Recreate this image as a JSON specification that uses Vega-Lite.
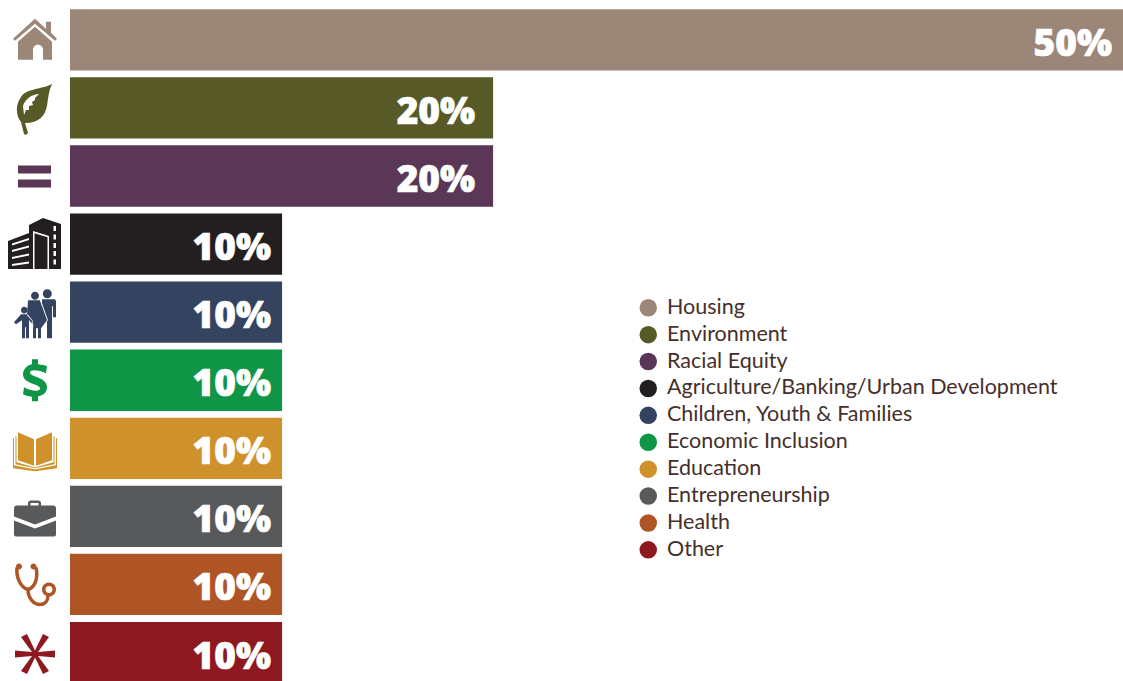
{
"$schema":"https://vega.github.io/schema/vega-lite/v6.json",
"width":1123,"height":681,"padding":0,"autosize":{"type":"none"},
"background":"white","view":{"stroke":null},
"data":{"values":[
{"topic":"Housing","share":50,"label":"50%"},
{"topic":"Environment","share":20.09,"label":"20%"},
{"topic":"Racial Equity","share":20.09,"label":"20%"},
{"topic":"Agriculture/Banking/Urban Development","share":10.07,"label":"10%"},
{"topic":"Children, Youth & Families","share":10.07,"label":"10%"},
{"topic":"Economic Inclusion","share":10.07,"label":"10%"},
{"topic":"Education","share":10.07,"label":"10%"},
{"topic":"Entrepreneurship","share":10.07,"label":"10%"},
{"topic":"Health","share":10.07,"label":"10%"},
{"topic":"Other","share":10.07,"label":"10%"}
]},
"encoding":{
"y":{"field":"topic","type":"nominal","axis":null,"sort":null,"scale":{"domain":["Housing","Environment","Racial Equity","Agriculture/Banking/Urban Development","Children, Youth & Families","Economic Inclusion","Education","Entrepreneurship","Health","Other"],"range":[9.2,683.2],"paddingInner":0.1,"paddingOuter":0}}
},
"layer":[
{"mark":{"type":"bar","opacity":1},
"encoding":{
"x":{"field":"share","type":"quantitative","axis":null,"scale":{"domain":[-3.324,50],"nice":false,"zero":false}},
"color":{"field":"topic","type":"nominal","sort":null,
"scale":{"domain":["Housing","Environment","Racial Equity","Agriculture/Banking/Urban Development","Children, Youth & Families","Economic Inclusion","Education","Entrepreneurship","Health","Other"],
"range":["#9c8678","#575a26","#5a3757","#231f20","#344460","#0e9646","#cf912b","#58595b","#ae5425","#8d181f"]},
"legend":{"title":null,"orient":"none","legendX":637.5,"legendY":297,"padding":0,"symbolType":"circle","symbolSize":306,"symbolStrokeWidth":0,"symbolOpacity":1,"labelFont":"Lato","labelFontSize":21.5,"labelColor":"#452f2b","labelLimit":500,"labelOffset":8,"rowPadding":3.9,"columns":1}}
}},
{"transform":[{"filter":"datum.share < 15 || datum.share > 30"}],
"mark":{"type":"text","align":"right","baseline":"middle","dx":-11,"dy":5,"font":"Open Sans","fontWeight":800,"fontSize":37,"color":"white","stroke":"white","strokeWidth":0.7},
"encoding":{"x":{"field":"share","type":"quantitative"},"text":{"field":"label"}}},
{"transform":[{"filter":"datum.share > 15 && datum.share < 30"}],
"mark":{"type":"text","align":"right","baseline":"middle","dx":-18,"dy":5,"font":"Open Sans","fontWeight":800,"fontSize":37,"color":"white","stroke":"white","strokeWidth":0.7},
"encoding":{"x":{"field":"share","type":"quantitative"},"text":{"field":"label"}}},
{"mark":{"type":"point","filled":true,"opacity":1,"size":4},
"encoding":{
"x":{"datum":-1.662,"type":"quantitative"},
"color":{"field":"topic","type":"nominal","sort":null,"legend":null},
"shape":{"field":"topic","type":"nominal","sort":null,"legend":null,"scale":{"domain":["Housing","Environment","Racial Equity","Agriculture/Banking/Urban Development","Children, Youth & Families","Economic Inclusion","Education","Entrepreneurship","Health","Other"],
"range":[
"M-22,-1 L0,-21 L11,-11 L11,-18 L16,-18 L16,-7 L22,-1 L20,1 L0,-16 L-20,1 Z M-17,2 L0,-13 L17,2 L17,20 L8,20 L8,10 A5,5 0 0 0 -2,10 L-2,20 L-17,20 Z",
"M17,-24 C5,-18 -8,-20 -14,-11 C-20,-3 -19,8 -14,14 L-11,26 Q-9,28 -7,25 L-10,15 C4,15 10,8 12,-2 C13,-10 14,-18 17,-24 Z",
"M-17,-10.5 L16,-10.5 L16,-2.5 L-17,-2.5 Z M-17,3.5 L16,3.5 L16,11.5 L-17,11.5 Z",
"M-6,-19 L8,-26 L26,-20 L26,25 L-27,25 L-27,-3 L-6,-11 Z",
"M-0,-16.5 m-4,0 a4,4 0 1 0 8,0 a4,4 0 1 0 -8,0 Z M12.3,-18.5 m-4.5,0 a4.5,4.5 0 1 0 9,0 a4.5,4.5 0 1 0 -9,0 Z M-10.7,-2 m-3.3,0 a3.3,3.3 0 1 0 6.6,0 a3.3,3.3 0 1 0 -6.6,0 Z M7,-13 L20,-13 L21,-11 L21,5 L18,5 L18,-6 L17,-6 L17,26 L12,26 L12,8 L7,8 Z M-7,-12 L5,-12 L12,8 L6,16 L6,26 L3,26 L3,16 L1,16 L1,26 L-2,26 L-2,14 L-3,8 L-8,3 Z M-14,2 L-7,2 L-1,9 L-3,11 L-6,8 L-6,26 L-9,26 L-9,15 L-10,15 L-10,26 L-13,26 L-13,8 L-19,12 L-21,10 Z",
"M-3,-21 L3,-21 L3,-16 C7,-15.5 10,-15 12,-14 L11,-7 C7,-9 3,-10 -1,-10 C-4,-10 -5,-9 -5,-7.5 C-5,-6 -3,-5 1,-3.5 C8,-1 12,2 12,7 C12,12 8,15.5 3,16 L3,21 L-3,21 L-3,16.5 C-7,16 -10,15 -12,14 L-11,7 C-7,9 -3,10.5 1,10.5 C4,10.5 5,9.5 5,8 C5,6.5 3,5.5 -1,4 C-8,1.5 -12,-1 -12,-6 C-12,-11 -8,-15 -3,-16 Z",
"M-17,-16 L-1,-9 L-1,17.5 L-17,12 Z M1,-9 L17,-16 L17,12 L1,17.5 Z M-22,-10 L-21,-10 L-21,17 L-1,21 L1,21 L21,17 L21,-10 L22,-10 L22,20 L0,23 L-22,20 Z M-19.5,-12 L-18.5,-12 L-18.5,14 L-1,19 L1,19 L18.5,14 L18.5,-12 L19.5,-12 L19.5,16 L0,20 L-19.5,16 Z",
"M-21,-8 Q-21,-11 -18,-11 L18,-11 Q21,-11 21,-8 L21,0 L0,8 L-21,0 Z M-21,4 L0,12 L21,4 L21,18 Q21,20 19,20 L-19,20 Q-21,20 -21,18 Z M-7,-10 L-7,-13 Q-7,-16 -4,-16 L3,-16 Q6,-16 6,-13 L6,-10 L3.5,-10 L3.5,-13.5 L-4.5,-13.5 L-4.5,-10 Z",
"M7,5 A7,7 0 1 0 21,5 A7,7 0 1 0 7,5 Z M-19,-18 A3,3 0 1 0 -13,-18 A3,3 0 1 0 -19,-18 Z M-4.5,-18 A3,3 0 1 0 1.5,-18 A3,3 0 1 0 -4.5,-18 Z",
"M8,-18.5 L14,-15.5 L3,-0.5 L20,-2 L20,5 L3,3.5 L14,18.5 L8,21.5 L0,5 L-8,21.5 L-14,18.5 L-3,3.5 L-20,5 L-20,-2 L-3,-0.5 L-14,-15.5 L-8,-18.5 L0,-2 Z"
]}}
}},
{"transform":[{"filter":{"field":"topic","oneOf":["Environment","Agriculture/Banking/Urban Development","Children, Youth & Families","Health"]}}],
"mark":{"type":"point","filled":true,"opacity":1,"size":4,"color":"white"},
"encoding":{
"x":{"datum":-1.662,"type":"quantitative"},
"shape":{"field":"topic","type":"nominal","sort":null,"legend":null,"scale":{"domain":["Environment","Agriculture/Banking/Urban Development","Children, Youth & Families","Health"],
"range":[
"M4,-14 C-3,-14 -10,-9 -12,-2 L-11,7 L-9,2 L-6,2 L-6,-2 L-2,-3 L-3,-6 L0,-8 L0,-10 Z",
"M-2,-13 L14,-8 L14,25 L12.5,25 L12.5,-6.8 L-0.5,-10.8 L-0.5,25 L-2,25 Z M-23,-0.5 L-6,-6 L-6,-4 L-23,1.5 Z M-23,6 L-6,1.5 L-6,3.5 L-23,8 Z M-23,13 L-6,9.5 L-6,11.5 L-23,15 Z M-23,20 L-6,17.5 L-6,19.5 L-23,22 Z M18.5,-18 L21,-18 L21,-13 L18.5,-13 Z M18.5,-9.5 L21,-9.5 L21,-4.5 L18.5,-4.5 Z M18.5,-1 L21,-1 L21,4 L18.5,4 Z M18.5,7 L21,7 L21,12 L18.5,12 Z M18.5,15.5 L21,15.5 L21,20.5 L18.5,20.5 Z",
"M5,-12 L6,-12 L13,8 L12.4,9 Z M-8,3 L-7.5,2 L-2.5,8 L-1.5,14 L-2.2,14 L-3,8.5 Z",
"M10.5,5 A3.5,3.5 0 1 0 17.5,5 A3.5,3.5 0 1 0 10.5,5 Z"
]}}
}},
{"transform":[{"filter":"datum.topic == 'Health'"}],
"mark":{"type":"point","filled":false,"opacity":1,"size":4,"strokeWidth":3.5},
"encoding":{
"x":{"datum":-1.662,"type":"quantitative"},
"color":{"field":"topic","type":"nominal","sort":null,"legend":null},
"shape":{"field":"topic","type":"nominal","sort":null,"legend":null,"scale":{"domain":["Health"],
"range":["M-18,-17 C-19,-8 -15,3 -7,5 C1,3 3,-8 1,-17 M-7,5 C-7,14 -1,20 5,20 C10,20 13,16 13,11"]}}
}}
],
"resolve":{"scale":{"shape":"independent"}}
}
